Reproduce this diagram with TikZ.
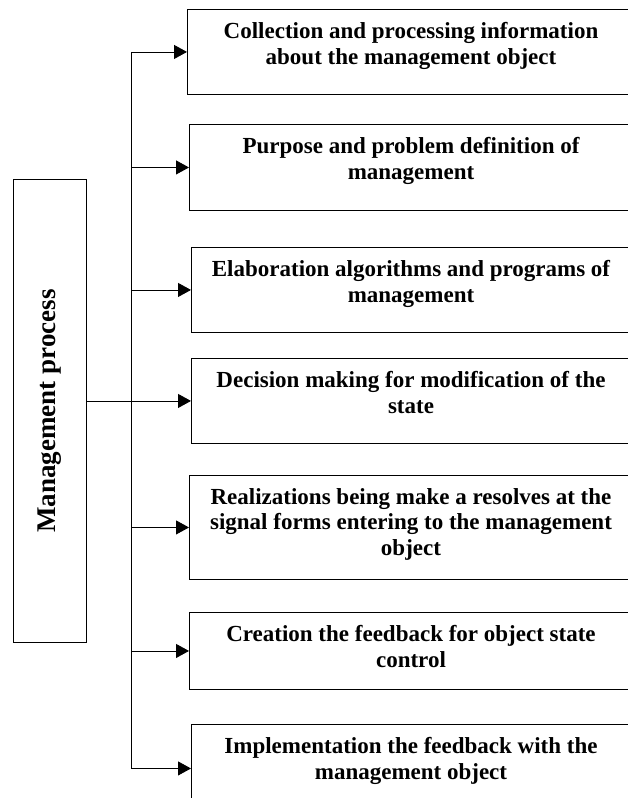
\documentclass[tikz,border=0pt]{standalone}
\usepackage{fontspec}
\setmainfont{Liberation Serif}
\usetikzlibrary{arrows.meta}
\begin{document}
\begin{tikzpicture}[x=1pt,y=-1pt,
  boxstyle/.style={draw, line width=0.9pt, anchor=north west, minimum width=450pt, inner sep=0pt},
  txt/.style={anchor=north, align=center, font=\fontsize{23}{25.8}\selectfont\bfseries, inner sep=0pt},
  conn/.style={line width=0.9pt},
  arr/.style={conn, -{Triangle[length=13pt,width=14pt]}}]
\useasboundingbox (0,0) rectangle (627,798);
% left box
\node[draw, line width=0.9pt, anchor=north west, minimum width=73pt, minimum height=463pt, inner sep=0pt] (mp) at (13,179) {};
\node[rotate=90, font=\fontsize{27}{30}\selectfont\bfseries, inner sep=0pt] (mpt) at (mp.center) {Management process};
% right boxes
\node[boxstyle, minimum height=85pt] (b1) at (187,9) {};
\node[boxstyle, minimum height=86pt] (b2) at (189,124) {};
\node[boxstyle, minimum height=85pt] (b3) at (191,247) {};
\node[boxstyle, minimum height=85pt] (b4) at (191,358) {};
\node[boxstyle, minimum height=104pt] (b5) at (189,475) {};
\node[boxstyle, minimum height=77pt] (b6) at (189,612) {};
\node[boxstyle, minimum height=88pt] (b7) at (191,724) {};
% texts
\node[txt] (t1) at (411,22) {Collection and processing information\\about the management object};
\node[txt] (t2) at (411,137) {Purpose and problem definition of\\management};
\node[txt] (t3) at (411,260) {Elaboration algorithms and programs of\\management};
\node[txt] (t4) at (411,371) {Decision making for modification of the\\state};
\node[txt] (t5) at (411,488) {Realizations being make a resolves at the\\signal forms entering to the management\\object};
\node[txt] (t6) at (411,625) {Creation the feedback for object state\\control};
\node[txt] (t7) at (411,737) {Implementation the feedback with the\\management object};
% connectors
\coordinate (sp) at (131,0);
\draw[conn] (sp |- b1.west) -- (sp |- b7.west);
\draw[arr] (sp |- b1.west) -- (b1.west);
\draw[arr] (sp |- b2.west) -- (b2.west);
\draw[arr] (sp |- b3.west) -- (b3.west);
\draw[arr] (mp.east |- b4.west) -- (b4.west);
\draw[arr] (sp |- b5.west) -- (b5.west);
\draw[arr] (sp |- b6.west) -- (b6.west);
\draw[arr] (sp |- b7.west) -- (b7.west);
\end{tikzpicture}
\end{document}
